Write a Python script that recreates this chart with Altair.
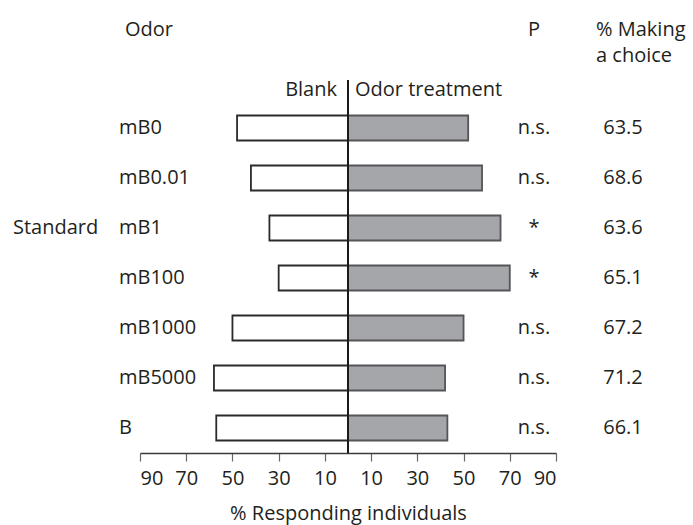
import altair as alt
import pandas as pd

# Odor-choice assay: share of responders choosing the blank vs. the odor side
odors = ["mB0", "mB0.01", "mB1", "mB100", "mB1000", "mB5000", "B"]
blank_pct = [48, 42, 34, 30, 50, 58, 57]
odor_pct = [52, 58, 66, 70, 50, 42, 43]
p_labels = ["n.s.", "n.s.", "*", "*", "n.s.", "n.s.", "n.s."]
making_choice = ["63.5", "68.6", "63.6", "65.1", "67.2", "71.2", "66.1"]
tick_values = [-90, -70, -50, -30, -10, 10, 30, 50, 70, 90]

FONT = "Open Sans"
FS = 20
INK = "#231f20"

df = pd.DataFrame({
    "odor": odors,
    "blank": [-v for v in blank_pct],
    "treat": odor_pct,
    "zero": [0] * len(odors),
    "p": p_labels,
    "pct": making_choice,
})

x_scale = alt.Scale(domain=[-90, 90], nice=False, zero=False)
y_scale = alt.Scale(domain=odors, paddingInner=0.5, paddingOuter=0.25)

base = alt.Chart(df).encode(
    y=alt.Y("odor:N", scale=y_scale, axis=None, sort=odors)
)

x_axis = alt.Axis(
    values=tick_values,
    labelExpr="abs(datum.value)",
    title="% Responding individuals",
    grid=False,
    domainColor="#3a3a3a",
    domainWidth=1.5,
    tickColor="#666666",
    tickSize=8,
    tickWidth=1.2,
    labelFont=FONT,
    labelFontSize=FS,
    labelColor=INK,
    labelPadding=7,
    titleFont=FONT,
    titleFontSize=FS,
    titleFontWeight="normal",
    titleColor=INK,
    titlePadding=15,
)

blank_bars = base.mark_bar(
    fill="white", stroke="#2b2b2b", strokeWidth=1.8
).encode(
    x=alt.X("blank:Q", scale=x_scale, axis=x_axis),
    x2="zero:Q",
)

odor_bars = base.mark_bar(
    fill="#a5a6aa", stroke="#555558", strokeWidth=1.8
).encode(
    x=alt.X("zero:Q", scale=x_scale),
    x2="treat:Q",
)

row_labels = base.mark_text(
    align="left", font=FONT, fontSize=FS, color=INK
).encode(x=alt.value(-21), text="odor:N")

p_text = base.mark_text(
    align="center", font=FONT, fontSize=FS, color=INK
).encode(x=alt.value(394), text="p:N")

pct_text = base.mark_text(
    align="center", font=FONT, fontSize=FS, color=INK
).encode(x=alt.value(483), text="pct:N")

group_label = alt.Chart(pd.DataFrame({"odor": ["mB1"], "t": ["Standard"]})).mark_text(
    align="left", font=FONT, fontSize=FS, color=INK
).encode(
    x=alt.value(-127),
    y=alt.Y("odor:N", scale=y_scale, axis=None, sort=odors),
    text="t:N",
)

one_row = pd.DataFrame({"k": [0]})


def header(text, px, py, align):
    return alt.Chart(one_row).mark_text(
        align=align, font=FONT, fontSize=FS, color=INK
    ).encode(x=alt.value(px), y=alt.value(py), text=alt.value(text))


# Column headers above the plot
headers = [
    header("Odor", -15, -73, "left"),
    header("P", 394, -73, "center"),
    header("% Making", 456, -73, "left"),
    header("a choice", 456, -47, "left"),
    header("Blank", 197, -13, "right"),
    header("Odor treatment", 215, -13, "left"),
]

center_line = alt.Chart(pd.DataFrame({"v": [0]})).mark_rule(
    color="#1a1a1a", strokeWidth=2
).encode(
    x=alt.X("v:Q", scale=x_scale),
    y=alt.value(-23),
    y2=alt.value(350),
)

chart = alt.layer(
    blank_bars, odor_bars, center_line, row_labels, p_text, pct_text,
    group_label, *headers,
).properties(
    width=416,
    height=350,
    padding={"left": 140, "top": 103, "right": 137, "bottom": 72},
    autosize=alt.AutoSizeParams(type="none"),
    background="white",
).configure_view(stroke=None)

chart.save("out.html", embed_options={"renderer": "svg", "actions": False})
